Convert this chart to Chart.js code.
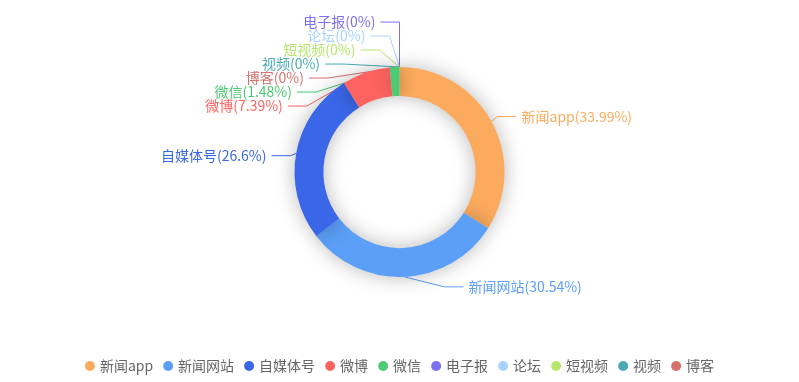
<!DOCTYPE html>
<html>
<head>
<meta charset="utf-8">
<script src="https://cdn.jsdelivr.net/npm/chart.js@4/dist/chart.umd.min.js"></script>
<style>
  html, body { margin: 0; padding: 0; background: #fff; }
  #wrap { width: 799px; height: 382px; position: relative; }
</style>
</head>
<body>
<div id="wrap"><canvas id="c" width="799" height="382"></canvas></div>
<script>
// ---- data ----
const categories = ['新闻app', '新闻网站', '自媒体号', '微博', '微信', '电子报', '论坛', '短视频', '视频', '博客'];
const shares = [33.99, 30.54, 26.6, 7.39, 1.48, 0, 0, 0, 0, 0];
const colors = ['#FCAB5E', '#5B9FF8', '#3A66E8', '#FF6461', '#4CCB72', '#7B6FF2', '#A9D3FF', '#B7E66F', '#4AABB3', '#D4726E'];

const FONT_FAMILY = '"Noto Sans CJK SC", "Microsoft YaHei", sans-serif';
const LABEL_FONT = '14px ' + FONT_FAMILY;
const LEGEND_FONT = '14px ' + FONT_FAMILY;

// ---- label layout (ported pie label avoid-overlap logic) ----
function computeLabels(chart) {
  const meta = chart.getDatasetMeta(0);
  const a0 = meta.data[0];
  const cx = a0.x, cy = a0.y, r = a0.outerRadius;
  const len = 10, len2 = 19, dist = 5, h = 14;
  const items = [];
  meta.data.forEach((arc, i) => {
    const mid = (arc.startAngle + arc.endAngle) / 2;
    let dx = Math.cos(mid); const dy = Math.sin(mid);
    const dir = dx < 1e-9 ? -1 : 1;
    const x1 = cx + r * dx, y1 = cy + r * dy;
    const x2 = x1 + dx * len, y2 = y1 + dy * len;
    const x3 = x2 + dir * len2;
    items.push({
      i, dir, x: x3 + dir * dist, y: y2, height: h, len, len2,
      linePoints: [[x1, y1], [x2, y2], [x3, y2]],
      text: categories[i] + '(' + shares[i] + '%)', color: colors[i]
    });
  });
  const viewTop = 0, viewHeight = chart.height;
  function adjustSingleSide(list, dir) {
    list.sort((a, b) => a.y - b.y);
    function shiftDown(start, end, delta) {
      for (let j = start; j < end; j++) {
        if (list[j].y + delta > viewTop + viewHeight) break;
        list[j].y += delta;
        if (j > start && j + 1 < end && list[j + 1].y > list[j].y + list[j].height) {
          shiftUp(j, delta / 2);
          return;
        }
      }
      shiftUp(end - 1, delta / 2);
    }
    function shiftUp(end, delta) {
      for (let j = end; j >= 0; j--) {
        if (list[j].y - delta < viewTop) break;
        list[j].y -= delta;
        if (j > 0 && list[j].y > list[j - 1].y + list[j - 1].height) break;
      }
    }
    function changeX(sub, isDown) {
      let last = isDown ? Number.MAX_VALUE : 0;
      for (const it of sub) {
        const deltaY = Math.abs(it.y - cy);
        const R = r + it.len + it.len2;
        let deltaX = deltaY < r + it.len ? Math.sqrt(R * R - deltaY * deltaY) : Math.abs(it.x - cx);
        if (isDown && deltaX >= last) deltaX = last - 10;
        if (!isDown && deltaX <= last) deltaX = last + 10;
        it.x = cx + deltaX * dir;
        last = deltaX;
      }
    }
    let lastY = 0;
    const n = list.length;
    for (let i = 0; i < n; i++) {
      const delta = list[i].y - lastY;
      if (delta < 0) shiftDown(i, n, -delta);
      lastY = list[i].y + list[i].height;
    }
    if (viewHeight - lastY < 0) shiftUp(n - 1, lastY - viewHeight);
    const up = [], down = [];
    list.forEach(it => (it.y >= cy ? down : up).push(it));
    changeX(up, false);
    changeX(down, true);
  }
  adjustSingleSide(items.filter(it => it.dir < 0), -1);
  adjustSingleSide(items.filter(it => it.dir > 0), 1);
  items.forEach(it => {
    const lp = it.linePoints;
    const d0 = lp[1][0] - lp[2][0];
    lp[2][0] = it.x < cx ? it.x + dist : it.x - dist;
    lp[1][0] = lp[2][0] + d0;
    lp[1][1] = lp[2][1] = it.y;
  });
  return items;
}

const pieDecor = {
  id: 'pieDecor',
  beforeDatasetsDraw(chart) {
    const ctx = chart.ctx;
    chart.$labels = computeLabels(chart);
    ctx.save();
    ctx.lineWidth = 1;
    chart.$labels.forEach(it => {
      const lp = it.linePoints;
      ctx.strokeStyle = it.color;
      ctx.beginPath();
      ctx.moveTo(lp[0][0], lp[0][1]);
      ctx.lineTo(lp[1][0], lp[1][1]);
      ctx.lineTo(lp[2][0], lp[2][1]);
      ctx.stroke();
    });
    ctx.restore();
  },
  beforeDatasetDraw(chart) {
    const ctx = chart.ctx;
    ctx.save();
    ctx.shadowColor = 'rgba(0,0,0,0.28)';
    ctx.shadowBlur = 20;
    ctx.shadowOffsetX = 0;
    ctx.shadowOffsetY = 0;
  },
  afterDatasetDraw(chart) {
    chart.ctx.restore();
  },
  afterDatasetsDraw(chart) {
    const ctx = chart.ctx;
    ctx.save();
    ctx.font = LABEL_FONT;
    ctx.textBaseline = 'middle';
    (chart.$labels || []).forEach(it => {
      ctx.fillStyle = it.color;
      ctx.textAlign = it.dir < 0 ? 'right' : 'left';
      ctx.fillText(it.text, it.x, it.y);
    });
    ctx.restore();
  },
  afterDraw(chart) {
    // legend
    const ctx = chart.ctx;
    ctx.save();
    ctx.font = LEGEND_FONT;
    ctx.textBaseline = 'middle';
    ctx.textAlign = 'left';
    const iconW = 10, iconGap = 5, itemGap = 10;
    const widths = categories.map(c => ctx.measureText(c).width);
    const total = widths.reduce((s, w) => s + iconW + iconGap + w, 0) + itemGap * (categories.length - 1);
    let x = chart.width / 2 - total / 2;
    const y = 366;
    categories.forEach((c, i) => {
      ctx.fillStyle = colors[i];
      ctx.beginPath();
      ctx.arc(x + iconW / 2, y, iconW / 2, 0, Math.PI * 2);
      ctx.fill();
      ctx.fillStyle = '#666';
      ctx.fillText(c, x + iconW + iconGap, y);
      x += iconW + iconGap + widths[i] + itemGap;
    });
    ctx.restore();
  }
};

new Chart(document.getElementById('c'), {
  type: 'doughnut',
  data: {
    labels: categories,
    datasets: [{
      data: shares,
      backgroundColor: colors,
      borderWidth: 0,
      hoverOffset: 0,
      offset: 0
    }]
  },
  options: {
    responsive: false,
    animation: false,
    cutout: '72.5%',
    rotation: 0,
    layout: { padding: { top: 67, bottom: 105, left: 0, right: 0 } },
    plugins: {
      legend: { display: false },
      tooltip: { enabled: false }
    },
    events: []
  },
  plugins: [pieDecor]
});
</script>
</body>
</html>
